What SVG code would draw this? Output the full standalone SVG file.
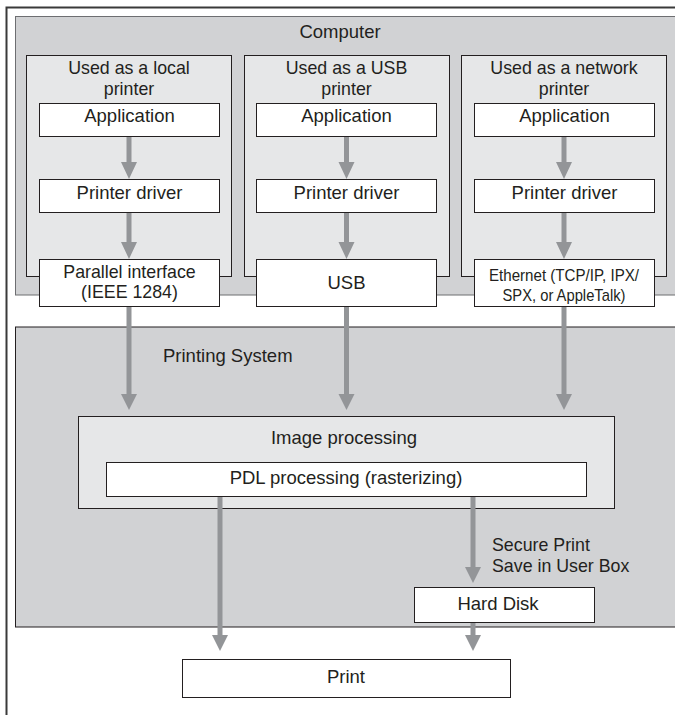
<svg xmlns="http://www.w3.org/2000/svg" width="675" height="715" viewBox="0 0 675 715">
<defs>
<style>
text{font-family:"Liberation Sans",Arial,Helvetica,sans-serif;font-size:18.5px;fill:#231f20}
.c{text-anchor:middle}
.t2{font-size:17.8px}
.e{font-size:17px}
.box{fill:#fff;stroke:#231f20;stroke-width:1}
.col{fill:#e6e7e8;stroke:#231f20;stroke-width:1}
.shaft{stroke:#939598;stroke-width:5;fill:none}
.head{fill:#939598}
</style>
</defs>
<rect x="0" y="0" width="675" height="715" fill="#fff"/>
<g id="frame">
<path d="M6.5 715 V7.5 H680" fill="none" stroke="#3a3a3a" stroke-width="2"/>
</g>
<g id="computer">
<rect x="15.5" y="16.5" width="680" height="278.5" fill="#d1d2d4" stroke="#6d6e71" stroke-width="1"/>
<text class="c" x="340" y="38">Computer</text>
</g>
<g id="printing-system">
<rect x="15.5" y="327" width="680" height="300" fill="#d1d2d4" stroke="#231f20" stroke-width="1"/>
<text x="163" y="362">Printing System</text>
</g>
<g id="col-local">
<rect class="col" x="26.5" y="55.5" width="205" height="221"/>
<text class="c t2" x="129" y="74">Used as a local</text>
<text class="c t2" x="129" y="94.5">printer</text>
</g>
<g id="col-usb">
<rect class="col" x="244.5" y="55.5" width="205" height="221"/>
<text class="c t2" x="346.5" y="74">Used as a USB</text>
<text class="c t2" x="346.5" y="94.5">printer</text>
</g>
<g id="col-network">
<rect class="col" x="461.5" y="55.5" width="205" height="221"/>
<text class="c t2" x="564" y="74">Used as a network</text>
<text class="c t2" x="564" y="94.5">printer</text>
</g>
<g id="app1"><rect class="box" x="39.5" y="103.5" width="180" height="33"/><text class="c" x="129.5" y="122">Application</text></g>
<g id="app2"><rect class="box" x="256.5" y="103.5" width="180" height="33"/><text class="c" x="346.5" y="122">Application</text></g>
<g id="app3"><rect class="box" x="474.5" y="103.5" width="180" height="33"/><text class="c" x="564.5" y="122">Application</text></g>
<g id="drv1"><rect class="box" x="39.5" y="179.5" width="180" height="33"/><text class="c" x="129.5" y="199">Printer driver</text></g>
<g id="drv2"><rect class="box" x="256.5" y="179.5" width="180" height="33"/><text class="c" x="346.5" y="199">Printer driver</text></g>
<g id="drv3"><rect class="box" x="474.5" y="179.5" width="180" height="33"/><text class="c" x="564.5" y="199">Printer driver</text></g>
<g id="if1"><rect class="box" x="39.5" y="259.5" width="180" height="47"/><text class="c t2" x="129.5" y="277.5">Parallel interface</text><text class="c t2" x="129.5" y="298">(IEEE 1284)</text></g>
<g id="if2"><rect class="box" x="256.5" y="259.5" width="180" height="47"/><text class="c" x="346.5" y="289">USB</text></g>
<g id="if3"><rect class="box" x="474.5" y="259.5" width="180" height="47"/><text class="c e" x="564" y="280.5" textLength="150" lengthAdjust="spacingAndGlyphs">Ethernet (TCP/IP, IPX/</text><text class="c e" x="564" y="300.5" textLength="123" lengthAdjust="spacingAndGlyphs">SPX, or AppleTalk)</text></g>
<g id="image-processing"><rect class="col" x="78.5" y="416.5" width="536" height="92"/><text class="c" x="344" y="444">Image processing</text></g>
<g id="pdl"><rect class="box" x="106.5" y="462.5" width="480" height="34"/><text class="c" x="346" y="484">PDL processing (rasterizing)</text></g>
<g id="hard-disk"><rect class="box" x="414.5" y="587.5" width="180" height="35"/><text class="c" x="498" y="610">Hard Disk</text></g>
<g id="print"><rect class="box" x="182.5" y="659.5" width="328" height="38"/><text class="c" x="346" y="683">Print</text></g>
<g id="label-secure"><text class="t2" x="492" y="551">Secure Print</text><text class="t2" x="492" y="572">Save in User Box</text></g>
<g id="connectors">
<path class="shaft" d="M129 137 V163 M346.5 137 V163 M564 137 V163"/>
<path class="head" d="M121 162 H137 L129 179 Z M338.5 162 H354.5 L346.5 179 Z M556 162 H572 L564 179 Z"/>
<path class="shaft" d="M129 213 V243 M346.5 213 V243 M564 213 V243"/>
<path class="head" d="M121 242 H137 L129 259 Z M338.5 242 H354.5 L346.5 259 Z M556 242 H572 L564 259 Z"/>
<path class="shaft" d="M129 307 V395 M346.5 307 V395 M564 307 V395"/>
<path class="head" d="M121 394 H137 L129 410 Z M338.5 394 H354.5 L346.5 410 Z M556 394 H572 L564 410 Z"/>
<path class="shaft" d="M220 497 V636"/>
<path class="head" d="M212 635 H228 L220 651 Z"/>
<path class="shaft" d="M473 497 V568"/>
<path class="head" d="M465 567 H481 L473 583 Z"/>
<path class="shaft" d="M473 623 V636"/>
<path class="head" d="M465 635 H481 L473 651 Z"/>
</g>
</svg>
